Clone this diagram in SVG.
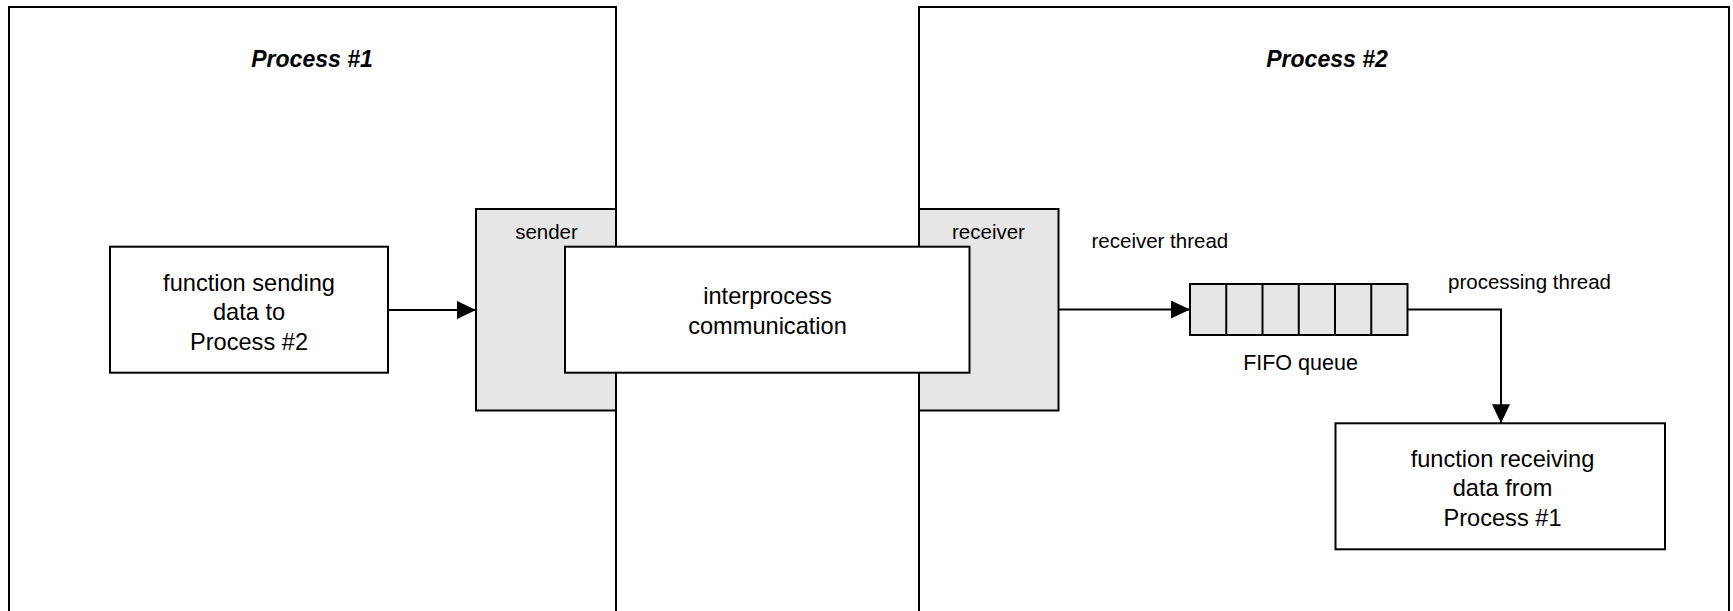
<svg xmlns="http://www.w3.org/2000/svg" width="1733" height="611" viewBox="0 0 1733 611">
<defs>
<style>
.proc{fill:#fff;stroke:#000;stroke-width:2}
.port{fill:#e6e6e6;stroke:#000;stroke-width:2}
.box{fill:#fff;stroke:#000;stroke-width:2}
.cell{fill:#e6e6e6;stroke:#000;stroke-width:2}
.conn{fill:none;stroke:#000;stroke-width:2}
.title{font-family:"Liberation Sans",Arial,sans-serif;font-size:23px;font-weight:bold;font-style:italic;text-anchor:middle;fill:#000}
.node{font-family:"Liberation Sans",Arial,sans-serif;font-size:23.6px;text-anchor:middle;fill:#000}
.lbl{font-family:"Liberation Sans",Arial,sans-serif;font-size:20.5px;fill:#000}
</style>
<marker id="arr" markerUnits="userSpaceOnUse" markerWidth="20" markerHeight="18" refX="19" refY="9" orient="auto">
<path d="M0,0 L19,9 L0,18 Z" fill="#000"/>
</marker>
</defs>

<g id="process1">
<rect class="proc" x="9" y="7" width="607" height="700"/>
<text class="title" x="312" y="67">Process #1</text>
</g>

<g id="process2">
<rect class="proc" x="919" y="7" width="810" height="700"/>
<text class="title" x="1327" y="67">Process #2</text>
</g>

<g id="sender">
<rect class="port" x="476" y="209" width="140" height="201.5"/>
<text class="lbl" x="546.5" y="239" text-anchor="middle">sender</text>
</g>

<g id="receiver">
<rect class="port" x="919" y="209" width="139.5" height="201.5"/>
<text class="lbl" x="988.5" y="239" text-anchor="middle">receiver</text>
</g>

<g id="ipc">
<rect class="box" x="565" y="246.7" width="404.5" height="126"/>
<text class="node" x="767.5" y="304">interprocess</text>
<text class="node" x="767.5" y="334">communication</text>
</g>

<g id="func-send">
<rect class="box" x="110" y="246.7" width="278" height="126"/>
<text class="node" x="249" y="290.5">function sending</text>
<text class="node" x="249" y="320">data to</text>
<text class="node" x="249" y="349.5">Process #2</text>
</g>

<g id="fifo">
<rect class="cell" x="1190" y="284" width="217.5" height="51"/>
<path class="conn" d="M1226.25,284 V335 M1262.5,284 V335 M1298.75,284 V335 M1335,284 V335 M1371.25,284 V335"/>
<text class="lbl" x="1300.5" y="370" text-anchor="middle" style="font-size:21.5px">FIFO queue</text>
</g>

<g id="func-recv">
<rect class="box" x="1335.5" y="423.3" width="329.5" height="126"/>
<text class="node" x="1502.5" y="466.5">function receiving</text>
<text class="node" x="1502.5" y="496">data from</text>
<text class="node" x="1502.5" y="526">Process #1</text>
</g>

<g id="connectors">
<line class="conn" x1="388" y1="310" x2="476" y2="310" marker-end="url(#arr)"/>
<line class="conn" x1="1058.5" y1="309.5" x2="1190" y2="309.5" marker-end="url(#arr)"/>
<path class="conn" d="M1407.5,309.5 H1501 V423.3" marker-end="url(#arr)"/>
<text class="lbl" x="1091.5" y="247.5">receiver thread</text>
<text class="lbl" x="1448" y="288.5">processing thread</text>
</g>
</svg>
